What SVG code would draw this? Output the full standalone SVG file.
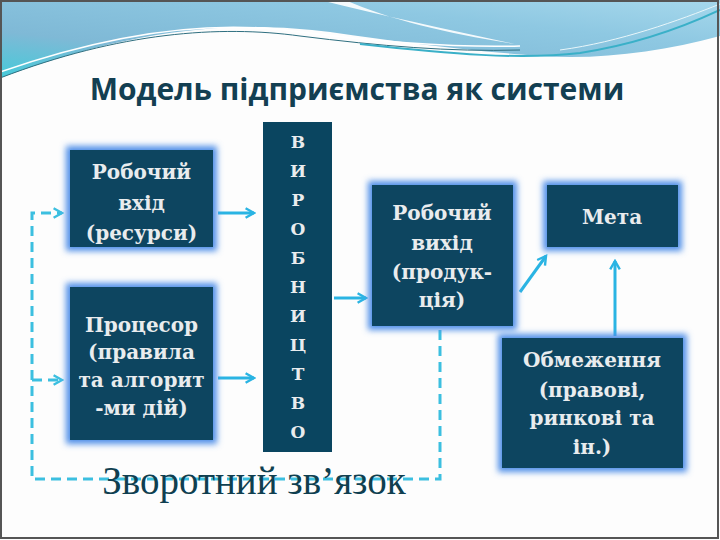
<svg xmlns="http://www.w3.org/2000/svg" width="720" height="540" viewBox="0 0 720 540">
<style>
.box{fill:#0a4560}
.bt{font-family:"DejaVu Serif","Liberation Serif",serif;font-weight:bold;font-size:20px;fill:#e9ecee;text-anchor:middle}
.vl{font-family:"DejaVu Serif","Liberation Serif",serif;font-weight:bold;font-size:17px;fill:#e9ecee;text-anchor:middle}
.arr{stroke:#2ab4e3;stroke-width:3;fill:none;marker-end:url(#ah)}
.dash{stroke:#3cbfe0;stroke-width:3;fill:none;stroke-dasharray:10 6}
</style>
<defs>
<linearGradient id="sky" x1="0" y1="1" x2="1" y2="0">
<stop offset="0" stop-color="#45cad9"/>
<stop offset="0.3" stop-color="#7fb9d6"/>
<stop offset="0.7" stop-color="#8ec8e2"/>
<stop offset="1" stop-color="#a6d8ec"/>
</linearGradient>
<filter id="glow" x="-20%" y="-20%" width="140%" height="140%">
<feFlood flood-color="#4f8fe8"/>
<feComposite in2="SourceAlpha" operator="in"/>
<feMorphology operator="dilate" radius="4"/>
<feGaussianBlur stdDeviation="3"/>
<feMerge><feMergeNode/><feMergeNode in="SourceGraphic"/></feMerge>
</filter>
<marker id="ah" viewBox="0 0 10 10" refX="8" refY="5" markerWidth="4" markerHeight="4" orient="auto" markerUnits="strokeWidth">
<path d="M1,1 L8,5 L1,9" fill="none" stroke="#2ab4e3" stroke-width="2"/>
</marker>
<marker id="ahd" viewBox="0 0 10 10" refX="8" refY="5" markerWidth="4" markerHeight="4" orient="auto" markerUnits="strokeWidth">
<path d="M1,1 L8,5 L1,9" fill="none" stroke="#3cbfe0" stroke-width="2"/>
</marker>
</defs>
<rect x="0" y="0" width="720" height="540" fill="#fdfdfd"/>
<g id="header">
<path d="M0,0 H720 V36 C660,52 600,60 540,56 C460,50 400,42 330,32 C250,22 150,22 0,78 Z" fill="url(#sky)"/>
<path d="M320,0 C380,15 450,30 515,44 C450,34 390,20 345,0 Z" fill="#ffffff" opacity="0.9"/>
<path d="M0,78 C120,32 220,25 300,36 C380,46 450,52 520,50" fill="none" stroke="#2f6f80" stroke-width="1"/>
<path d="M0,72 C120,30 220,20 300,32 C380,42 450,48 520,46" fill="none" stroke="#ffffff" stroke-width="1.5"/>
<path d="M360,44 C450,54 520,60 580,53 C640,44 690,24 720,10" fill="none" stroke="#3ab0c8" stroke-width="2"/>
<path d="M560,50 C620,42 680,20 720,4" fill="none" stroke="#e8f6fa" stroke-width="1"/>
</g>
<rect x="1" y="1" width="717" height="537" fill="none" stroke="#555" stroke-width="2"/>
<text x="357" y="100" font-family="'Open Sans','Noto Sans',sans-serif" font-weight="bold" font-size="30" fill="#133f52" text-anchor="middle">Модель підприємства як системи</text>
<g id="connectors">
<path class="arr" d="M218,213 H254"/>
<path class="arr" d="M218,378 H254"/>
<path class="arr" d="M334,298 H366"/>
<path class="arr" d="M520,292 L546,256"/>
<path class="arr" d="M615,336 V261"/>
<path class="dash" d="M440,330 V479 H32 V213 H62" marker-end="url(#ahd)"/>
<path class="dash" d="M32,380 H62" marker-end="url(#ahd)"/>
</g>
<g id="input">
<rect class="box" x="70" y="150" width="143" height="97" filter="url(#glow)"/>
<text class="bt" x="141.5" y="179">Робочий</text>
<text class="bt" x="141.5" y="210">вхід</text>
<text class="bt" x="141.5" y="240">(ресурси)</text>
</g>
<g id="processor">
<rect class="box" x="70" y="287" width="143" height="153" filter="url(#glow)"/>
<text class="bt" x="141.5" y="332">Процесор</text>
<text class="bt" x="141.5" y="359">(правила</text>
<text class="bt" x="141.5" y="387">та алгорит</text>
<text class="bt" x="141.5" y="415">-ми дій)</text>
</g>
<g id="production">
<rect class="box" x="263" y="122" width="69" height="330"/>
<text class="vl" x="298" y="148">В</text>
<text class="vl" x="298" y="177">И</text>
<text class="vl" x="298" y="206">Р</text>
<text class="vl" x="298" y="235">О</text>
<text class="vl" x="298" y="264">Б</text>
<text class="vl" x="298" y="293">Н</text>
<text class="vl" x="298" y="322">И</text>
<text class="vl" x="298" y="351">Ц</text>
<text class="vl" x="298" y="380">Т</text>
<text class="vl" x="298" y="409">В</text>
<text class="vl" x="298" y="438">О</text>
</g>
<g id="output">
<rect class="box" x="372" y="185" width="141" height="141" filter="url(#glow)"/>
<text class="bt" x="442" y="220">Робочий</text>
<text class="bt" x="442" y="250">вихід</text>
<text class="bt" x="442" y="279">(продук-</text>
<text class="bt" x="442" y="307">ція)</text>
</g>
<g id="goal">
<rect class="box" x="547" y="185" width="131" height="62" filter="url(#glow)"/>
<text class="bt" x="612" y="224">Мета</text>
</g>
<g id="constraints">
<rect class="box" x="502" y="338" width="181" height="130" filter="url(#glow)"/>
<text class="bt" x="592" y="367">Обмеження</text>
<text class="bt" x="592" y="397">(правові,</text>
<text class="bt" x="592" y="425">ринкові та</text>
<text class="bt" x="592" y="454">ін.)</text>
</g>
<text x="254" y="494" font-family="'Liberation Serif',serif" font-size="39" fill="#0f3f50" text-anchor="middle">Зворотний зв’язок</text>
</svg>
